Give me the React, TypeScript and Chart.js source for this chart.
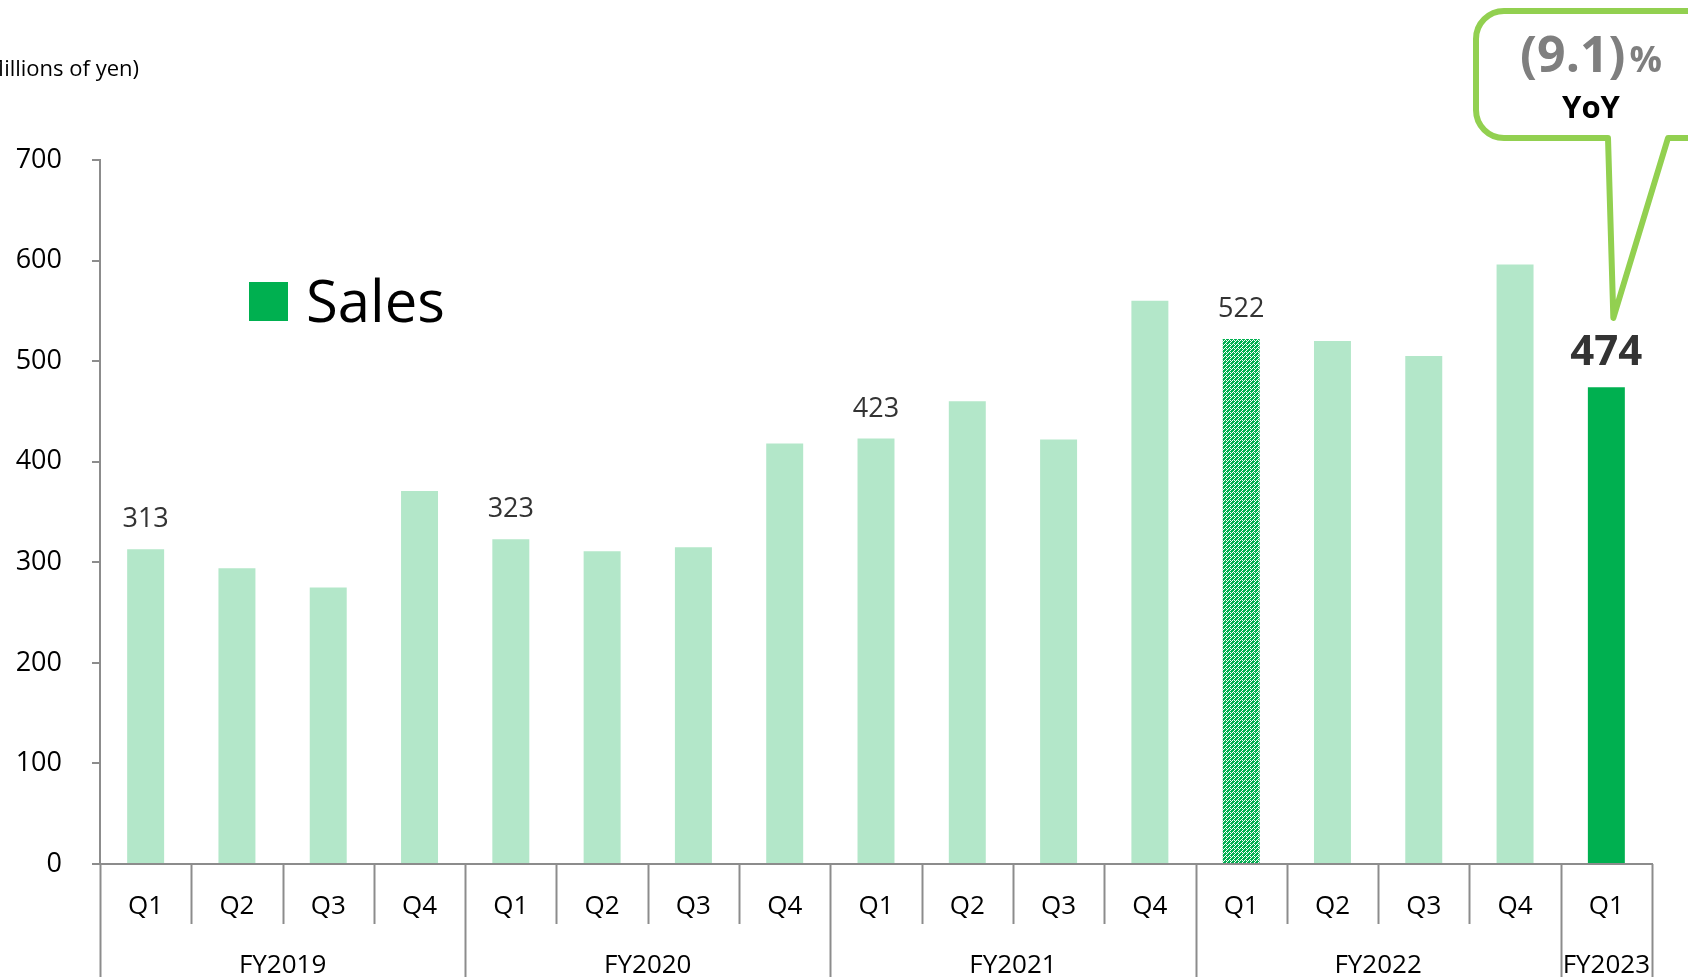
import React, { useEffect, useRef } from "react";
import { Chart, registerables } from "chart.js";

Chart.register(...registerables);

const quarters = ["Q1","Q2","Q3","Q4","Q1","Q2","Q3","Q4","Q1","Q2","Q3","Q4","Q1","Q2","Q3","Q4","Q1"];
const fiscalYears = ["FY2019","FY2020","FY2021","FY2022","FY2023"];
const quartersPerYear = [4, 4, 4, 4, 1];
const sales = [313, 294, 275, 371, 323, 311, 315, 418, 423, 460, 422, 560, 522, 520, 505, 596, 474];
const labeledIndices = [0, 4, 8, 12];
const hatchedIndex = 12;
const highlightIndex = 16;
const yoyText = "(9.1)";
const yoyUnit = "%";
const yoyLabel = "YoY";
const unitLabel = "(Millions of yen)";
const legendLabel = "Sales";
const yTicks = [0, 100, 200, 300, 400, 500, 600, 700];

const FONT = "'Open Sans', 'Noto Sans', sans-serif";
const LIGHT = "#B3E7C9";
const DARK = "#00B050";
const AXIS = "#8c8c8c";

function makePattern(): CanvasPattern | string {
  const c = document.createElement("canvas");
  c.width = 4;
  c.height = 4;
  const g = c.getContext("2d");
  if (!g) return DARK;
  g.fillStyle = DARK;
  g.fillRect(0, 0, 4, 4);
  g.fillStyle = "#ffffff";
  g.fillRect(0, 0, 1, 1);
  g.fillRect(2, 2, 1, 1);
  g.fillRect(1, 3, 1, 1);
  g.fillRect(3, 1, 1, 1);
  g.fillRect(2, 0, 1, 1);
  const p = g.createPattern(c, "repeat");
  return p || DARK;
}

const overlayPlugin = {
  id: "overlay",
  afterDraw(chart: any) {
    const ctx: CanvasRenderingContext2D = chart.ctx;
    const xs = chart.scales.x;
    const ys = chart.scales.y;
    const bottom = chart.chartArea.bottom;
    const H = chart.height;
    ctx.save();

    // unit label
    ctx.fillStyle = "#000";
    ctx.font = `22px ${FONT}`;
    ctx.textAlign = "right";
    ctx.textBaseline = "alphabetic";
    ctx.fillText(unitLabel, 139, 76);

    // legend
    ctx.fillStyle = DARK;
    ctx.fillRect(249, 282, 39, 39);
    ctx.fillStyle = "#000";
    ctx.font = `58px ${FONT}`;
    ctx.textAlign = "left";
    ctx.fillText(legendLabel, 306, 322);

    // x axis hierarchy
    const cw = xs.getPixelForValue(1) - xs.getPixelForValue(0);
    ctx.strokeStyle = AXIS;
    ctx.lineWidth = 2;
    let idx = 0;
    const groupStarts = new Set<number>();
    quartersPerYear.forEach((n) => { groupStarts.add(idx); idx += n; });
    groupStarts.add(quarters.length);
    for (let i = 0; i <= quarters.length; i++) {
      const x = Math.round(xs.getPixelForValue(i) - cw / 2) + 0.5;
      ctx.beginPath();
      ctx.moveTo(x, bottom);
      ctx.lineTo(x, groupStarts.has(i) ? H : bottom + 60);
      ctx.stroke();
    }
    ctx.fillStyle = "#000";
    ctx.font = `26px ${FONT}`;
    ctx.textAlign = "center";
    quarters.forEach((q, i) => {
      ctx.fillText(q, xs.getPixelForValue(i), 914);
    });
    let start = 0;
    fiscalYears.forEach((fy, k) => {
      const n = quartersPerYear[k];
      const x0 = xs.getPixelForValue(start) - cw / 2;
      const x1 = xs.getPixelForValue(start + n - 1) + cw / 2;
      ctx.fillText(fy, (x0 + x1) / 2, 973);
      start += n;
    });

    // data labels
    ctx.fillStyle = "#333";
    ctx.font = `27px ${FONT}`;
    labeledIndices.forEach((i) => {
      ctx.fillText(String(sales[i]), xs.getPixelForValue(i), ys.getPixelForValue(sales[i]) - 22);
    });
    ctx.font = `bold 42px ${FONT}`;
    ctx.fillText(String(sales[highlightIndex]), xs.getPixelForValue(highlightIndex), ys.getPixelForValue(sales[highlightIndex]) - 22);

    // callout
    const L = 1476, T = 11, R = 1720, B = 138, r = 28;
    const tipX = xs.getPixelForValue(highlightIndex) + 7;
    const tipY = 318;
    ctx.beginPath();
    ctx.moveTo(L + r, T);
    ctx.lineTo(R, T);
    ctx.lineTo(R, B);
    ctx.lineTo(1668, B);
    ctx.lineTo(tipX, tipY);
    ctx.lineTo(1608, B);
    ctx.lineTo(L + r, B);
    ctx.arcTo(L, B, L, B - r, r);
    ctx.lineTo(L, T + r);
    ctx.arcTo(L, T, L + r, T, r);
    ctx.closePath();
    ctx.fillStyle = "#fff";
    ctx.fill();
    ctx.strokeStyle = "#92D050";
    ctx.lineWidth = 6;
    ctx.lineJoin = "round";
    ctx.stroke();

    ctx.fillStyle = "#7f7f7f";
    ctx.font = `bold 50px ${FONT}`;
    const w1 = ctx.measureText(yoyText).width;
    ctx.font = `bold 36px ${FONT}`;
    const w2 = ctx.measureText(yoyUnit).width;
    const cx = 1591;
    const sx = cx - (w1 + w2 + 4) / 2;
    ctx.textAlign = "left";
    ctx.font = `bold 50px ${FONT}`;
    ctx.fillText(yoyText, sx, 72);
    ctx.font = `bold 36px ${FONT}`;
    ctx.fillText(yoyUnit, sx + w1 + 4, 72);
    ctx.fillStyle = "#000";
    ctx.font = `bold 31px ${FONT}`;
    ctx.textAlign = "center";
    ctx.fillText(yoyLabel, cx, 118);

    ctx.restore();
  },
};

export default function App() {
  const ref = useRef<HTMLCanvasElement | null>(null);
  useEffect(() => {
    if (!ref.current) return;
    const pattern = makePattern();
    const colors = sales.map((_, i) =>
      i === hatchedIndex ? pattern : i === highlightIndex ? DARK : LIGHT
    );
    const chart = new Chart(ref.current, {
      type: "bar",
      data: {
        labels: quarters,
        datasets: [
          {
            label: legendLabel,
            data: sales,
            backgroundColor: colors as any,
            borderWidth: 0,
            barPercentage: 0.405,
            categoryPercentage: 1,
          },
        ],
      },
      options: {
        responsive: false,
        animation: false,
        devicePixelRatio: 1,
        layout: { padding: { top: 160, right: 36, left: 0, bottom: 0 } },
        plugins: { legend: { display: false }, tooltip: { enabled: false } },
        scales: {
          x: {
            type: "category",
            offset: true,
            ticks: { display: false },
            grid: { display: false },
            border: { display: true, color: AXIS, width: 2 },
            afterFit: (s: any) => { s.height = 113; },
          },
          y: {
            min: 0,
            max: 700,
            afterBuildTicks: (s: any) => { s.ticks = yTicks.map((v) => ({ value: v })); },
            ticks: {
              padding: 30,
              color: "#000",
              font: { family: FONT, size: 27 },
            },
            grid: { display: true, drawOnChartArea: false, drawTicks: true, tickLength: 8, color: AXIS, lineWidth: 2 },
            border: { display: true, color: AXIS, width: 2 },
            afterFit: (s: any) => { s.width = 100; },
          },
        },
      },
      plugins: [overlayPlugin],
    });
    return () => chart.destroy();
  }, []);
  return (
    <div style={{ position: "fixed", left: 0, top: 0, width: 1688, height: 977, background: "#fff" }}>
      <canvas ref={ref} width={1688} height={977} style={{ display: "block" }} />
    </div>
  );
}
